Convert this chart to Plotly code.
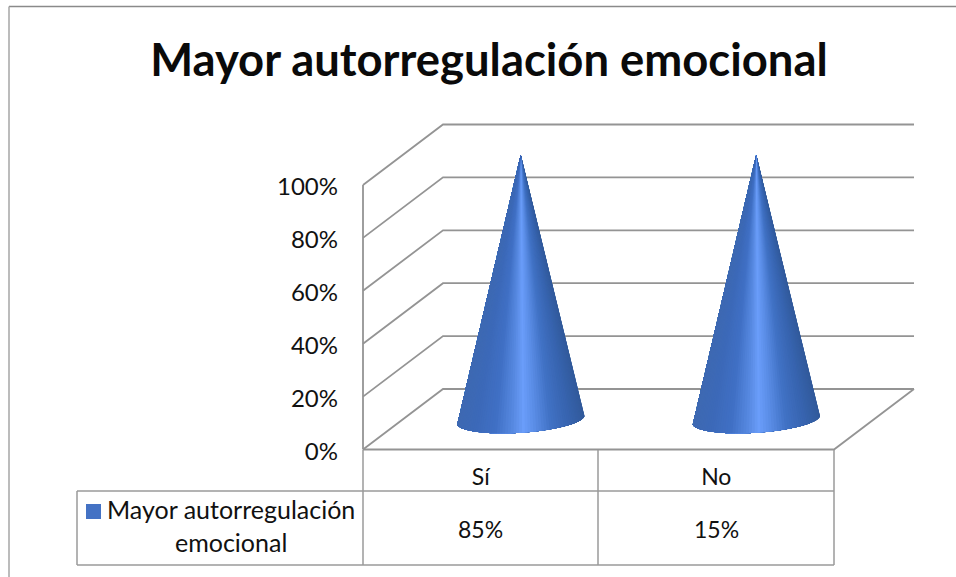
import math
import plotly.graph_objects as go

# ---- data ----
categories = ["Sí", "No"]
table_values = ["85%", "15%"]
cone_heights = [100, 100]          # 100 % column height drawn for each category
y_ticks = [0, 20, 40, 60, 80, 100]
series_name = "Mayor autorregulación<br>emocional"
title_text = "Mayor autorregulación emocional"

# ---- styling / geometry ----
W, H = 956, 577
X0_PX, X2_PX = 363.0, 834.0
Y0_PX, Y100_PX = 449.5, 185.0
SX = (X2_PX - X0_PX) / 2
SY = (Y0_PX - Y100_PX) / 100
DEPTH_X = 80 / SX
DEPTH_Y = 60.5 / SY
FONT = "Lato, Carlito, Calibri, sans-serif"
GRID = "#949494"
TEXT = "#111111"
N = 70

def lerp_color(f):
    stops = [(0.0, (62, 105, 178)), (0.14, (60, 105, 184)), (0.30, (64, 112, 197)),
             (0.44, (88, 138, 226)), (0.52, (106, 157, 250)), (0.60, (92, 143, 232)),
             (0.74, (64, 113, 196)), (0.90, (54, 98, 172)), (1.0, (50, 90, 155))]
    for (a, ca), (b, cb) in zip(stops, stops[1:]):
        if f <= b:
            k = (f - a) / (b - a)
            return "rgb(%d,%d,%d)" % tuple(round(p + (q - p) * k) for p, q in zip(ca, cb))
    return "rgb(50,90,155)"

fig = go.Figure()

def line(xs, ys, color=GRID, width=1.8):
    fig.add_trace(go.Scatter(x=xs, y=ys, mode="lines", line=dict(color=color, width=width),
                             hoverinfo="skip", showlegend=False))

# gridlines on the side and back walls
for v in y_ticks:
    line([0, DEPTH_X, 2 + DEPTH_X], [v, v + DEPTH_Y, v + DEPTH_Y])
# front axis and floor
line([0, 0], [y_ticks[0], y_ticks[-1]])
line([0, 2, 2 + DEPTH_X], [0, 0, DEPTH_Y])

# cones: painted from the right edge sweep, each wedge covering all that is still to come
UX, UY = 63.5 / SX, 5.5 / SY
VX, VY = 7 / SX, 13 / SY
for i, h in enumerate(cone_heights):
    cx = i + 0.5 + DEPTH_X / 2
    cy = DEPTH_Y / 2
    tip = (cx, cy + h)
    pts = []
    for k in range(N + 1):
        t = math.pi * k / N
        pts.append((cx + UX * math.cos(t) + VX * math.sin(t),
                    cy + UY * math.cos(t) - VY * math.sin(t)))
    xmin, xmax = min(p[0] for p in pts), max(p[0] for p in pts)
    for k in range(N):
        f = ((pts[k][0] + pts[k + 1][0]) / 2 - xmin) / (xmax - xmin)
        col = lerp_color(f)
        rest = pts[k:]
        fig.add_trace(go.Scatter(x=[tip[0]] + [p[0] for p in rest] + [tip[0]],
                                 y=[tip[1]] + [p[1] for p in rest] + [tip[1]],
                                 mode="lines", fill="toself", fillcolor=col,
                                 line=dict(color=col, width=0),
                                 hoverinfo="skip", showlegend=False))

# data table
def px_line(x0, y0, x1, y1, color="#9a9a9a", width=1.5):
    fig.add_shape(type="line", xref="paper", yref="paper",
                  x0=x0 / W, x1=x1 / W, y0=1 - y0 / H, y1=1 - y1 / H,
                  line=dict(color=color, width=width))

px_line(77, 491, 834, 491)
px_line(77, 565, 834, 565)
px_line(77, 491, 77, 565)
for x in (363, 598, 834):
    px_line(x, 450, x, 565)
# chart border
px_line(9, 6.5, 956, 6.5, "#8a8a8a")
px_line(9, 6.5, 9, 577, "#a6a6a6")
# legend key
fig.add_shape(type="rect", xref="paper", yref="paper", x0=86 / W, x1=101 / W,
              y0=1 - 519 / H, y1=1 - 504 / H, fillcolor="#4472c4", line=dict(width=0))

fig.add_annotation(text=series_name, xref="paper", yref="paper", x=231 / W, y=1 - 525.5 / H,
                   showarrow=False, align="center", font=dict(family=FONT, size=25, color=TEXT),
                   xanchor="center", yanchor="middle")
for i, val in enumerate(table_values):
    fig.add_annotation(text=val, xref="x", yref="paper", x=i + 0.5, y=1 - 529 / H, showarrow=False,
                       xanchor="center", yanchor="middle",
                       font=dict(family=FONT, size=23, color=TEXT))

fig.update_layout(
    width=W, height=H, margin=dict(l=0, r=0, t=0, b=0), autosize=False,
    paper_bgcolor="white", plot_bgcolor="white", showlegend=False,
    title=dict(text="<b>" + title_text + "</b>", x=489 / W, xanchor="center", xref="paper",
               y=1 - 60 / H, yanchor="middle", yref="paper",
               font=dict(family=FONT, size=45.4, color="#0a0a0a")),
    xaxis=dict(range=[-X0_PX / SX, (W - X0_PX) / SX], domain=[0, 1], showgrid=False, zeroline=False,
               showline=False, tickmode="array", tickvals=[0.5, 1.5], ticktext=categories,
               ticks="", anchor="free", position=1 - 449.5 / H, ticklabelstandoff=11,
               tickfont=dict(family=FONT, size=23, color=TEXT), fixedrange=True),
    yaxis=dict(range=[(Y0_PX - H) / SY, Y0_PX / SY], domain=[0, 1], showgrid=False, zeroline=False,
               showline=False, tickmode="array", tickvals=y_ticks,
               ticktext=["%d%%" % v for v in y_ticks], ticks="",
               anchor="free", position=X0_PX / W, ticklabelstandoff=25, ticklabelshift=2,
               tickfont=dict(family=FONT, size=24, color=TEXT), fixedrange=True),
)

fig.write_html("out.html", config={"displayModeBar": False},
               post_script="document.body.style.margin='0';")
